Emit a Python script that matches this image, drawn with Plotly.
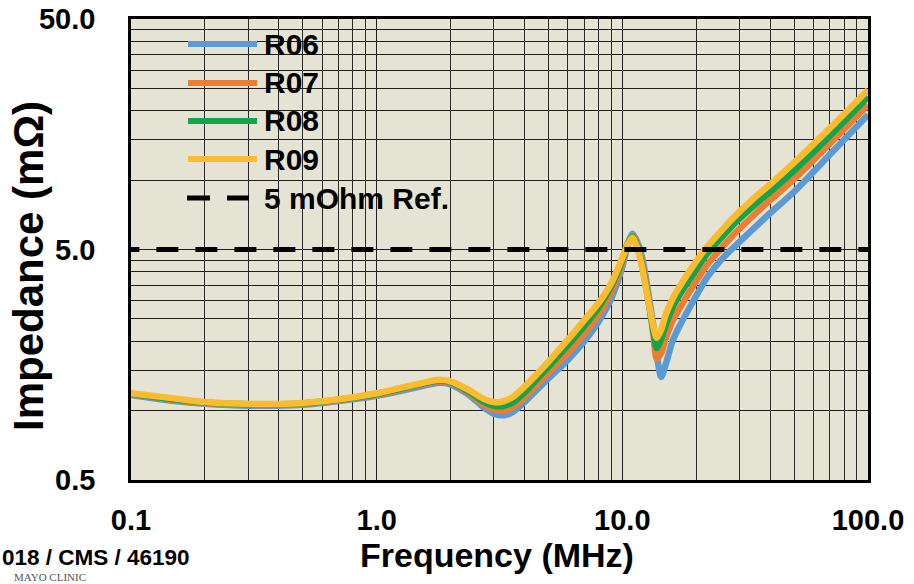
import plotly.graph_objects as go

# ---------------- data ----------------
freq_mhz = [0.1, 0.15, 0.2, 0.3, 0.5, 0.7, 1.0, 1.4, 1.8, 2.0, 2.4, 2.7, 3.0, 3.3, 3.6, 4.0,
            5.0, 6.0, 7.0, 8.0, 9.0, 10.0, 10.5, 11.0, 11.5, 12.1, 12.9, 13.4, 13.8, 14.4,
            15.0, 16.0, 17.0, 20.0, 22.0, 25.0, 27.5, 30.0, 35.0, 40.0, 50.0, 70.0, 100.0]

r06 = [1.17, 1.10, 1.07, 1.05, 1.06, 1.10, 1.16, 1.25, 1.32, 1.30, 1.16, 1.04, 0.97, 0.955, 0.99, 1.09,
       1.38, 1.66, 2.00, 2.43, 3.05, 4.20, 5.20, 5.85, 5.40, 4.50, 3.00, 2.30, 1.75, 1.40,
       1.58, 2.00, 2.30, 3.15, 3.75, 4.45, 4.95, 5.40, 6.30, 7.20, 8.90, 12.9, 19.2]

r07 = [1.18, 1.11, 1.08, 1.06, 1.07, 1.11, 1.17, 1.27, 1.34, 1.32, 1.18, 1.07, 1.01, 1.00, 1.04, 1.14,
       1.46, 1.78, 2.15, 2.60, 3.25, 4.35, 5.25, 5.75, 5.30, 4.30, 2.85, 2.10, 1.68, 1.78,
       2.05, 2.45, 2.75, 3.65, 4.25, 5.00, 5.60, 6.15, 7.20, 8.20, 10.1, 14.4, 21.2]

r08 = [1.185, 1.12, 1.085, 1.065, 1.075, 1.115, 1.18, 1.28, 1.35, 1.33, 1.20, 1.10, 1.05, 1.05, 1.09, 1.20,
       1.55, 1.92, 2.33, 2.80, 3.45, 4.50, 5.30, 5.68, 5.20, 4.15, 2.80, 2.20, 1.87, 2.05,
       2.35, 2.80, 3.15, 4.10, 4.75, 5.55, 6.20, 6.80, 7.90, 8.90, 11.0, 15.6, 23.0]

r09 = [1.19, 1.13, 1.09, 1.07, 1.08, 1.12, 1.19, 1.29, 1.36, 1.34, 1.22, 1.13, 1.09, 1.10, 1.15, 1.27,
       1.63, 2.03, 2.47, 2.93, 3.56, 4.60, 5.25, 5.62, 5.10, 4.07, 2.81, 2.30, 2.07, 2.25,
       2.60, 3.05, 3.42, 4.45, 5.10, 5.95, 6.65, 7.30, 8.50, 9.60, 11.9, 16.8, 24.6]

series_names = ["R06", "R07", "R08", "R09"]
series_values = [r06, r07, r08, r09]
series_colors = ["#5B9BD5", "#ED7D31", "#14A44D", "#FDBB2F"]

ref_name = "5 mOhm Ref."
ref_level = 5.0
ref_x = [0.088, 100.0]

x_tickvals = [0.1, 1, 10, 100]
x_ticktext = ["0.1", "1.0", "10.0", "100.0"]
y_tickvals = [0.5, 1.0, 1.5, 2.0, 2.5, 3.0, 3.5, 4.0, 4.5, 5.0,
              10, 15, 20, 25, 30, 35, 40, 45, 50]
y_ticktext = ["0.5", "", "", "", "", "", "", "", "", "5.0",
              "", "", "", "", "", "", "", "", "50.0"]

x_title = "Frequency (MHz)"
y_title = "Impedance (mΩ)"
credit_text = "018 / CMS / 46190"
clinic_text = "MAYO CLINIC"

# ---------------- layout helpers ----------------
W, H = 914, 584
L, R, T, B = 131, 46, 19, 104
PW, PH = W - L - R, H - T - B
BG = "#E5E3D4"
FONT = "Liberation Sans, Arial, sans-serif"


def px(xp):
    return (xp - L) / PW


def py(yp):
    return (H - B - yp) / PH


fig = go.Figure()

for name, vals, col in zip(series_names, series_values, series_colors):
    fig.add_trace(go.Scatter(x=freq_mhz, y=vals, name=name, mode="lines",
                             line=dict(color=col, width=6.5, shape="spline", smoothing=0.7),
                             showlegend=False))

fig.add_trace(go.Scatter(x=ref_x, y=[ref_level, ref_level], name=ref_name, mode="lines",
                         line=dict(color="black", width=5, dash="22px,17px"),
                         showlegend=False))

# ---------------- manual legend ----------------
shapes = [dict(type="rect", xref="paper", yref="paper", x0=px(172), x1=px(467), y0=py(215), y1=py(23),
               fillcolor=BG, line=dict(width=0), layer="between")]
annotations = []
rows = [44, 83, 121, 159, 198]
for i, (name, col) in enumerate(zip(series_names, series_colors)):
    yy = py(rows[i])
    shapes.append(dict(type="line", xref="paper", yref="paper", x0=px(188), x1=px(257), y0=yy, y1=yy,
                       line=dict(color=col, width=6), layer="above"))
    annotations.append(dict(text=name, xref="paper", yref="paper", x=px(262), y=yy,
                            xanchor="left", yanchor="middle", showarrow=False,
                            font=dict(family=FONT, size=30, color="black", weight="bold")))
yy = py(rows[4])
shapes.append(dict(type="line", xref="paper", yref="paper", x0=px(187), x1=px(249), y0=yy, y1=yy,
                   line=dict(color="black", width=5, dash="23px,17px"), layer="above"))
annotations.append(dict(text=ref_name, xref="paper", yref="paper", x=px(262), y=yy,
                        xanchor="left", yanchor="middle", showarrow=False,
                        font=dict(family=FONT, size=30, color="black", weight="bold")))

# axis titles
annotations.append(dict(text=x_title, xref="paper", yref="paper", x=px(497), y=py(555),
                        xanchor="center", yanchor="middle", showarrow=False,
                        font=dict(family=FONT, size=34, color="black", weight="bold")))
annotations.append(dict(text=y_title, xref="paper", yref="paper", x=px(28), y=py(266),
                        xanchor="center", yanchor="middle", showarrow=False, textangle=-90,
                        font=dict(family=FONT, size=42, color="black", weight="bold")))

# credit texts
annotations.append(dict(text=credit_text, xref="paper", yref="paper", x=px(0), y=py(557),
                        xanchor="left", yanchor="middle", showarrow=False,
                        font=dict(family=FONT, size=22.5, color="black", weight="bold")))
annotations.append(dict(text=clinic_text, xref="paper", yref="paper", x=px(12), y=py(585),
                        xanchor="left", yanchor="bottom", showarrow=False,
                        font=dict(family="Liberation Serif, Times New Roman, serif", size=11,
                                  color="#555555")))

axis_common = dict(
    type="log", showgrid=True, gridcolor="#1f1f1f", gridwidth=1.3,
    showline=True, mirror=True, linecolor="black", linewidth=2.5,
    ticks="", zeroline=False, automargin=False,
    tickfont=dict(family=FONT, size=29, color="black", weight="bold"),
)

fig.update_layout(
    width=W, height=H, autosize=False,
    margin=dict(l=L, r=R, t=T, b=B, pad=0),
    paper_bgcolor="white", plot_bgcolor=BG,
    shapes=shapes, annotations=annotations,
    showlegend=False,
    xaxis=dict(axis_common, range=[-1, 2], tickmode="array", tickvals=x_tickvals, ticktext=x_ticktext,
               minor=dict(dtick="D1", showgrid=True, gridcolor="#2a2a2a", gridwidth=1.3, ticks=""),
               ticklabelstandoff=12),
    yaxis=dict(axis_common, range=[-0.30103, 1.69897], tickmode="array", tickvals=y_tickvals,
               ticktext=y_ticktext, ticklabelstandoff=27),
)

fig.write_html("out.html")
